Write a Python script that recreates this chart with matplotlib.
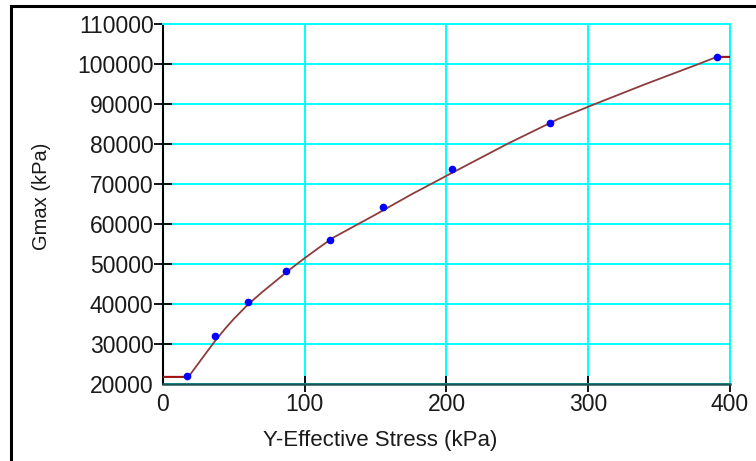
import matplotlib
matplotlib.use("Agg")
import matplotlib.pyplot as plt
from matplotlib.patches import Rectangle

plt.rcParams['font.family'] = ['Liberation Sans', 'DejaVu Sans']

# measured points
stress_pts = [17, 37, 60, 87, 118, 155, 204, 273, 391]
gmax_pts = [22000, 31800, 40300, 48100, 55900, 64200, 73600, 85200, 101800]

# fitted curve
stress_fit = [0, 18, 28, 37, 44, 50, 60, 70, 80, 90, 100, 110, 120, 150, 175, 200,
              243, 279, 305, 340, 378, 391, 400]
gmax_fit = [21700, 21700, 26500, 30800, 33800, 36200, 39800, 42900, 45800, 48700, 51400,
            54000, 56500, 62300, 67300, 72000, 80000, 86250, 90000, 94900, 100000, 101800, 101800]

x_ticks = [0, 100, 200, 300, 400]
y_ticks = [20000, 30000, 40000, 50000, 60000, 70000, 80000, 90000, 100000, 110000]

fig = plt.figure(figsize=(7.56, 4.61), dpi=100)
ax = fig.add_axes([0.2156, 0.168, 0.75, 0.780])

# outer frame, only left and top edges are inside the picture
fig.patches.append(Rectangle((0.0146, -0.1), 1.2, 1.087, transform=fig.transFigure,
                             fill=False, edgecolor='black', linewidth=2.2))

ax.plot(stress_fit, gmax_fit, color='#8c3c3c', linewidth=1.3, zorder=3)
ax.plot(stress_fit[:2], gmax_fit[:2], color='#a01010', linewidth=1.3, zorder=3)
ax.plot(stress_fit[-2:], gmax_fit[-2:], color='#a01010', linewidth=1.3, zorder=3)
ax.plot(stress_pts, gmax_pts, 'o', color='#0000ff', markersize=4.5, zorder=4)

ax.set_xlim(0, 400)
ax.set_ylim(20000, 110000)
ax.set_xticks(x_ticks)
ax.set_yticks(y_ticks)
ax.grid(True, color='#00ffff', linewidth=1.4)
ax.set_axisbelow(True)

for side in ['top', 'right']:
    ax.spines[side].set_color('#00ffff')
    ax.spines[side].set_linewidth(1.4)
ax.spines['left'].set_color('black')
ax.spines['left'].set_linewidth(1.5)
ax.spines['bottom'].set_color('#1d5555')
ax.spines['bottom'].set_linewidth(1.8)

ax.tick_params(axis='y', direction='inout', length=13.5, width=1.3, labelsize=16.5,
               pad=0, colors='black', labelcolor='#1a1a1a')
ax.tick_params(axis='x', direction='inout', length=12, width=1.3, labelsize=16.5,
               pad=1, colors='black', labelcolor='#1a1a1a')
# no tick marks at the origin
ax.yaxis.get_major_ticks()[0].tick1line.set_visible(False)
ax.xaxis.get_major_ticks()[0].tick1line.set_visible(False)

ax.set_xlabel('Y-Effective Stress (kPa)', fontsize=16, color='#1a1a1a')
ax.set_ylabel('Gmax (kPa)', fontsize=14.5, color='#1a1a1a')
ax.xaxis.set_label_coords(0.383, -0.13)
ax.yaxis.set_label_coords(-0.197, 0.52)

fig.savefig('out.png', dpi=100)
